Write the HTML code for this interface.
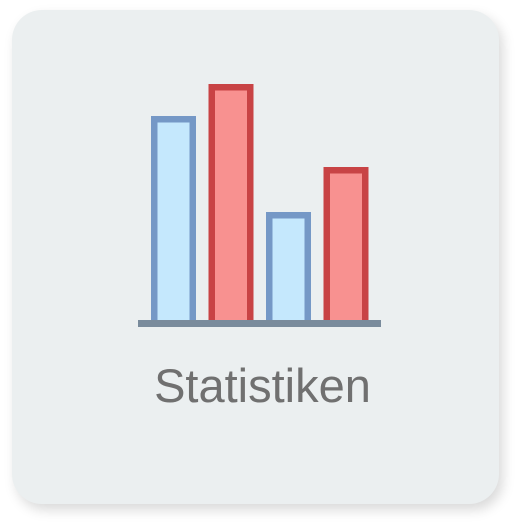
<!DOCTYPE html>
<html><head><style>
html,body{margin:0;padding:0;background:#fff;width:531px;height:531px;overflow:hidden}
#card{position:absolute;left:12px;top:10px;width:487px;height:494px;border-radius:30px;background:#ebeff0;box-shadow:4px 6px 12px rgba(0,0,0,0.15)}
#label{position:absolute;left:-3px;width:531px;top:360px;text-align:center;font-family:"Liberation Sans",sans-serif;font-size:47px;color:#707070;line-height:52px}
svg{position:absolute;left:0;top:0}
</style></head><body>
<div id="card"></div>
<svg id="chart" width="531" height="531"></svg>
<div id="label">Statistiken</div>
<script>
const categories=["a","b","c","d"];
const values=[204,236,108,153];
const series=["blue","red","blue","red"];
const svg=document.getElementById('chart');
const NS="http://www.w3.org/2000/svg";
const baseY=320, x0=151, step=57.5, bw=45, sw=6.5;
function xPos(i){return x0+i*step;}
function yPos(v){return baseY-v;}
const fills={blue:"#c5e8fd",red:"#f89190"}, strokes={blue:"#7598c6",red:"#c84345"};
categories.forEach((c,i)=>{
  const r=document.createElementNS(NS,'rect');
  
  
  r.setAttribute('x',xPos(i)+sw/2);
  r.setAttribute('y',yPos(values[i])+sw/2);
  r.setAttribute('width',bw-sw);
  r.setAttribute('height',values[i]);
  r.setAttribute('fill',fills[series[i]]);
  r.setAttribute('stroke',strokes[series[i]]);
  r.setAttribute('stroke-width',sw);
  svg.appendChild(r);
});
const b=document.createElementNS(NS,'rect');


b.setAttribute('x',138);b.setAttribute('y',320);b.setAttribute('width',243);b.setAttribute('height',7);
b.setAttribute('fill','#798b9c');
svg.appendChild(b);
</script>
</body></html>
